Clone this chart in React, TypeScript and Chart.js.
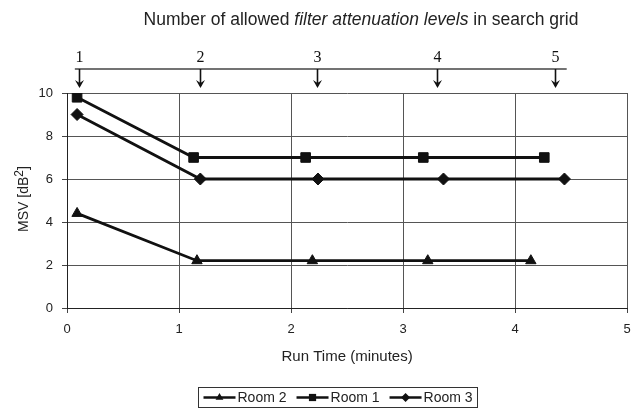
import React, { useEffect, useRef } from 'react';
import { Chart, registerables } from 'chart.js';

Chart.register(...registerables);

// ---- data ----
const titleParts = [
  { text: 'Number of allowed ', italic: false },
  { text: 'filter attenuation levels', italic: true },
  { text: ' in search grid', italic: false },
];
const xAxisTitle = 'Run Time (minutes)';
const yAxisTitleMain = 'MSV [dB';
const yAxisTitleSup = '2';
const yAxisTitleEnd = ']';

const seriesLabels = ['Room 2', 'Room 1', 'Room 3'];
const seriesMarkers = ['triangle', 'rect', 'rectRot'];
const seriesMarkerSizes = [6, 6.8, 6];

const room2Times = [0.09, 1.16, 2.19, 3.22, 4.14];
const room2Msv = [4.4, 2.2, 2.2, 2.2, 2.2];
const room1Times = [0.09, 1.13, 2.13, 3.18, 4.26];
const room1Msv = [9.8, 7.0, 7.0, 7.0, 7.0];
const room3Times = [0.09, 1.19, 2.24, 3.36, 4.44];
const room3Msv = [9.0, 6.0, 6.0, 6.0, 6.0];

const levelLabels = ['1', '2', '3', '4', '5'];
const levelTimes = [0.11, 1.19, 2.23, 3.3, 4.36];
const levelSpan = [0.07, 4.46];

const xMin = 0, xMax = 5, xStep = 1;
const yMin = 0, yMax = 10, yStep = 2;

const FAM = "'Liberation Sans', Arial, sans-serif";
const INK = '#111';
const GRID = '#555';

function toPoints(xs: number[], ys: number[]) {
  return xs.map((x, i) => ({ x, y: ys[i] }));
}

function drawMarker(ctx: CanvasRenderingContext2D, style: string, r: number, x: number, y: number) {
  ctx.beginPath();
  if (style === 'rect') {
    const s = r * Math.SQRT1_2;
    ctx.rect(x - s, y - s, 2 * s, 2 * s);
  } else if (style === 'rectRot') {
    ctx.moveTo(x, y - r);
    ctx.lineTo(x + r, y);
    ctx.lineTo(x, y + r);
    ctx.lineTo(x - r, y);
    ctx.closePath();
  } else {
    const h = r * 1.5;
    const w = r * 0.866;
    ctx.moveTo(x, y - r);
    ctx.lineTo(x + w, y - r + h);
    ctx.lineTo(x - w, y - r + h);
    ctx.closePath();
  }
  ctx.fillStyle = INK;
  ctx.fill();
}

const decorPlugin = {
  id: 'decor',
  afterDraw(chart: any) {
    const ctx: CanvasRenderingContext2D = chart.ctx;
    const xs = chart.scales.x;
    const ca = chart.chartArea;
    ctx.save();

    // Title with mixed italics
    ctx.textBaseline = 'middle';
    ctx.fillStyle = '#222';
    const tSize = 17.5;
    const widths = titleParts.map((p) => {
      ctx.font = `${p.italic ? 'italic ' : ''}${tSize}px ${FAM}`;
      return ctx.measureText(p.text).width;
    });
    const total = widths.reduce((a, b) => a + b, 0);
    let tx = 361 - total / 2;
    titleParts.forEach((p, i) => {
      ctx.font = `${p.italic ? 'italic ' : ''}${tSize}px ${FAM}`;
      ctx.textAlign = 'left';
      ctx.fillText(p.text, tx, 20);
      tx += widths[i];
    });

    // Grid-level annotation above plot
    const lineY = ca.top - 24;
    ctx.strokeStyle = '#444';
    ctx.lineWidth = 1.5;
    ctx.beginPath();
    ctx.moveTo(xs.getPixelForValue(levelSpan[0]), lineY);
    ctx.lineTo(xs.getPixelForValue(levelSpan[1]), lineY);
    ctx.stroke();
    ctx.font = `16px 'Liberation Serif', 'Times New Roman', serif`;
    ctx.textAlign = 'center';
    levelTimes.forEach((t, i) => {
      const px = Math.round(xs.getPixelForValue(t)) + 0.5;
      ctx.strokeStyle = '#111';
      ctx.lineWidth = 1.6;
      ctx.beginPath();
      ctx.moveTo(px, lineY);
      ctx.lineTo(px, ca.top - 7);
      ctx.stroke();
      ctx.beginPath();
      ctx.moveTo(px - 4.5, ca.top - 13);
      ctx.lineTo(px, ca.top - 5);
      ctx.lineTo(px + 4.5, ca.top - 13);
      ctx.lineTo(px, ca.top - 10);
      ctx.closePath();
      ctx.fillStyle = '#111';
      ctx.fill();
      ctx.fillText(levelLabels[i], px, ca.top - 35);
    });

    // X axis title
    ctx.fillStyle = '#222';
    ctx.font = `15px ${FAM}`;
    ctx.textAlign = 'center';
    ctx.fillText(xAxisTitle, (ca.left + ca.right) / 2, 357);

    // Y axis title (rotated)
    ctx.save();
    ctx.translate(24, 199);
    ctx.rotate(-Math.PI / 2);
    ctx.font = `14px ${FAM}`;
    const w1 = ctx.measureText(yAxisTitleMain).width;
    ctx.font = `12px ${FAM}`;
    const w2 = ctx.measureText(yAxisTitleSup).width;
    ctx.font = `14px ${FAM}`;
    const w3 = ctx.measureText(yAxisTitleEnd).width;
    let yx = -(w1 + w2 + w3) / 2;
    ctx.textAlign = 'left';
    ctx.fillText(yAxisTitleMain, yx, 0);
    yx += w1;
    ctx.font = `12px ${FAM}`;
    ctx.fillText(yAxisTitleSup, yx, -4);
    yx += w2;
    ctx.font = `14px ${FAM}`;
    ctx.fillText(yAxisTitleEnd, yx, 0);
    ctx.restore();

    // Legend
    ctx.font = `14px ${FAM}`;
    const segW = 32, gap = 2, itemGap = 10, padX = 5;
    const items = chart.data.datasets.map((ds: any) => ({
      label: ds.label,
      style: ds.pointStyle,
      r: ds.pointRadius,
      tw: ctx.measureText(ds.label).width,
    }));
    const legW =
      items.reduce((a: number, it: any) => a + segW + gap + it.tw, 0) +
      itemGap * (items.length - 1) +
      padX * 2;
    const legLeft = 198.5;
    const legTop = 387, legH = 20;
    ctx.strokeStyle = '#333';
    ctx.lineWidth = 1;
    ctx.strokeRect(legLeft, legTop + 0.5, Math.round(legW), legH);
    let lx = legLeft + padX;
    const ly = legTop + legH / 2 + 0.5;
    items.forEach((it: any) => {
      ctx.strokeStyle = INK;
      ctx.lineWidth = 2.4;
      ctx.beginPath();
      ctx.moveTo(lx, ly);
      ctx.lineTo(lx + segW, ly);
      ctx.stroke();
      drawMarker(ctx, it.style, it.r * 0.75, lx + segW / 2, ly);
      ctx.fillStyle = '#222';
      ctx.textAlign = 'left';
      ctx.textBaseline = 'middle';
      ctx.fillText(it.label, lx + segW + gap, ly + 1);
      lx += segW + gap + it.tw + itemGap;
    });

    ctx.restore();
  },
};

export default function App() {
  const ref = useRef<HTMLCanvasElement | null>(null);

  useEffect(() => {
    if (!ref.current) return;
    const series = [
      toPoints(room2Times, room2Msv),
      toPoints(room1Times, room1Msv),
      toPoints(room3Times, room3Msv),
    ];
    const chart = new Chart(ref.current, {
      type: 'scatter',
      data: {
        datasets: seriesLabels.map((label, i) => ({
          label,
          data: series[i],
          showLine: true,
          borderColor: INK,
          backgroundColor: INK,
          borderWidth: 2.8,
          pointStyle: seriesMarkers[i] as any,
          pointRadius: seriesMarkerSizes[i],
          pointBorderWidth: 1,
          pointBackgroundColor: INK,
          pointBorderColor: INK,
        })),
      },
      options: {
        responsive: false,
        animation: false,
        devicePixelRatio: 1,
        layout: { padding: { top: 93, left: 0, right: 2, bottom: 0 } },
        plugins: {
          legend: { display: false },
          title: { display: false },
          tooltip: { enabled: false },
        },
        scales: {
          x: {
            type: 'linear',
            min: xMin,
            max: xMax,
            ticks: {
              stepSize: xStep,
              color: '#222',
              font: { family: FAM, size: 13 },
              padding: 9,
              maxRotation: 0,
            },
            grid: { color: GRID, lineWidth: 1, tickLength: 5, tickColor: '#444' },
            border: { display: true, color: '#222', width: 1 },
            afterFit: (s: any) => {
              s.height = 100;
              s.paddingLeft = 0;
              s.paddingRight = 0;
            },
          },
          y: {
            type: 'linear',
            min: yMin,
            max: yMax,
            ticks: {
              stepSize: yStep,
              color: '#222',
              font: { family: FAM, size: 13 },
              padding: 9,
            },
            grid: { color: GRID, lineWidth: 1, tickLength: 5, tickColor: '#444' },
            border: { display: true, color: '#222', width: 1 },
            afterFit: (s: any) => {
              s.width = 67;
              s.paddingTop = 0;
              s.paddingBottom = 0;
            },
          },
        },
      },
      plugins: [decorPlugin],
    });
    return () => chart.destroy();
  }, []);

  return (
    <div style={{ position: 'absolute', left: 0, top: 0, width: 635, height: 408, background: '#fff' }}>
      <canvas ref={ref} width={635} height={408} style={{ display: 'block' }} />
    </div>
  );
}
